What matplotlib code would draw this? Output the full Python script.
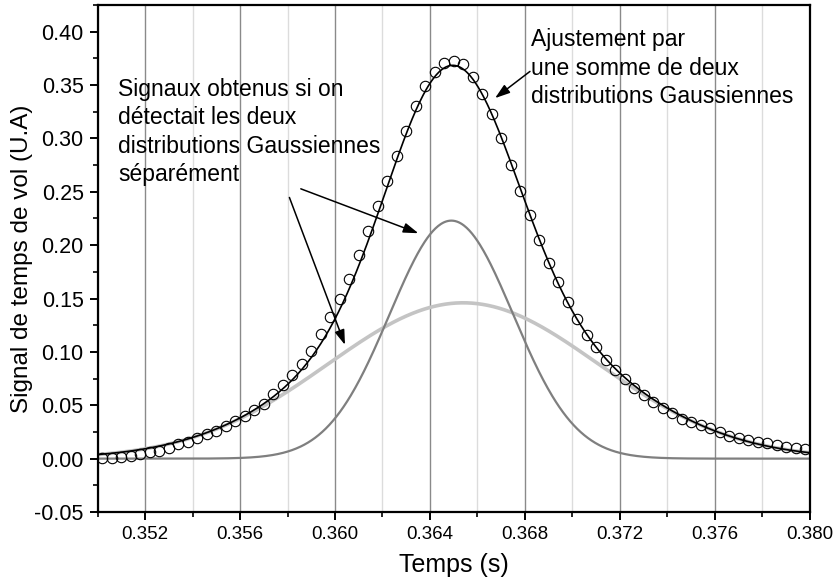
import numpy as np
import matplotlib
matplotlib.use("Agg")
import matplotlib.pyplot as plt
from matplotlib.ticker import MultipleLocator, FormatStrFormatter

plt.rcParams['font.family'] = ['Liberation Sans', 'DejaVu Sans']
plt.rcParams['axes.unicode_minus'] = False

# Measured time-of-flight signal (open circles)
temps = [0.3502, 0.3506, 0.3510, 0.3514, 0.3518, 0.3522, 0.3526, 0.3530, 0.3534, 0.3538,
         0.3542, 0.3546, 0.3550, 0.3554, 0.3558, 0.3562, 0.3566, 0.3570, 0.3574, 0.3578,
         0.3582, 0.3586, 0.3590, 0.3594, 0.3598, 0.3602, 0.3606, 0.3610, 0.3614, 0.3618,
         0.3622, 0.3626, 0.3630, 0.3634, 0.3638, 0.3642, 0.3646, 0.3650, 0.3654, 0.3658,
         0.3662, 0.3666, 0.3670, 0.3674, 0.3678, 0.3682, 0.3686, 0.3690, 0.3694, 0.3698,
         0.3702, 0.3706, 0.3710, 0.3714, 0.3718, 0.3722, 0.3726, 0.3730, 0.3734, 0.3738,
         0.3742, 0.3746, 0.3750, 0.3754, 0.3758, 0.3762, 0.3766, 0.3770, 0.3774, 0.3778,
         0.3782, 0.3786, 0.3790, 0.3794, 0.3798]
signal = [0.0003, 0.0009, 0.0016, 0.0028, 0.0044, 0.0059, 0.0075, 0.0097, 0.0134, 0.0159,
          0.0190, 0.0228, 0.0260, 0.0307, 0.0354, 0.0403, 0.0457, 0.0513, 0.0607, 0.0691,
          0.0785, 0.0888, 0.1010, 0.1170, 0.1323, 0.1498, 0.1686, 0.1908, 0.2136, 0.2364,
          0.2605, 0.2839, 0.3074, 0.3302, 0.3489, 0.3622, 0.3708, 0.3730, 0.3693, 0.3574,
          0.3421, 0.3230, 0.3004, 0.2755, 0.2504, 0.2286, 0.2046, 0.1832, 0.1651, 0.1466,
          0.1310, 0.1160, 0.1044, 0.0926, 0.0832, 0.0748, 0.0666, 0.0598, 0.0528, 0.0478,
          0.0425, 0.0372, 0.0341, 0.0316, 0.0284, 0.0247, 0.0216, 0.0197, 0.0175, 0.0153,
          0.0144, 0.0129, 0.0113, 0.0103, 0.0091]

# Fitted Gaussian components (narrow, wide)
gauss_amplitude = [0.223, 0.146]
gauss_center = [0.3649, 0.3654]
gauss_sigma = [0.0026, 0.0057]

x_ticks_major = [0.352, 0.356, 0.360, 0.364, 0.368, 0.372, 0.376, 0.380]
y_ticks_major = [-0.05, 0.00, 0.05, 0.10, 0.15, 0.20, 0.25, 0.30, 0.35, 0.40]

fig = plt.figure(figsize=(8.35, 5.78), dpi=100)
ax = fig.add_axes([0.1168, 0.1142, 0.970 - 0.1168, 0.9913 - 0.1142])

tt = np.linspace(0.350, 0.380, 800)
comps = [a * np.exp(-(tt - c) ** 2 / (2 * s ** 2))
         for a, c, s in zip(gauss_amplitude, gauss_center, gauss_sigma)]
fit = comps[0] + comps[1]

ax.plot(tt, comps[1], color='#c4c4c4', lw=2.6, zorder=3)
ax.plot(tt, comps[0], color='#7f7f7f', lw=1.6, zorder=3)
ax.plot(tt, fit, color='black', lw=1.2, zorder=4)
ax.plot(temps, signal, 'o', ms=7.5, mfc='none', mec='black', mew=0.8, zorder=5)

ax.set_xlim(0.350, 0.380)
ax.set_ylim(-0.05, 0.425)
ax.set_xticks(x_ticks_major)
ax.xaxis.set_minor_locator(MultipleLocator(0.002))
ax.set_yticks(y_ticks_major)
ax.yaxis.set_minor_locator(MultipleLocator(0.025))
ax.xaxis.set_major_formatter(FormatStrFormatter('%.3f'))
ax.yaxis.set_major_formatter(FormatStrFormatter('%.2f'))

ax.grid(True, which='major', axis='x', color='#8a8a8a', lw=1.0, zorder=0)
ax.grid(True, which='minor', axis='x', color='#dcdcdc', lw=1.0, zorder=0)
ax.set_axisbelow(True)

for sp in ax.spines.values():
    sp.set_linewidth(1.6)
    sp.set_zorder(6)

ax.tick_params(which='major', direction='out', length=6, width=1.4, pad=4,
               top=False, right=False)
ax.tick_params(axis='x', which='major', labelsize=13.5)
ax.tick_params(axis='y', which='major', labelsize=15.5)
ax.tick_params(which='minor', direction='out', length=3.5, width=1.2, top=False, right=False)

ax.set_xlabel('Temps (s)', fontsize=18, labelpad=7)
ax.set_ylabel('Signal de temps de vol (U.A)', fontsize=17.5, labelpad=1)

ax.text(0.35088, 0.2597, "Signaux obtenus si on\ndétectait les deux\ndistributions Gaussiennes\nséparément",
        fontsize=16.5, ha='left', va='baseline', linespacing=1.31, zorder=7)
ax.text(0.36824, 0.3331, "Ajustement par\nune somme de deux\ndistributions Gaussiennes",
        fontsize=16.5, ha='left', va='baseline', linespacing=1.31, zorder=7)

arrow_kw = dict(arrowstyle='-|>,head_length=0.9,head_width=0.3', color='black', lw=1.1,
                shrinkA=0, shrinkB=0)
ax.annotate('', xy=(0.36351, 0.2112), xytext=(0.35856, 0.2528), arrowprops=arrow_kw, zorder=7)
ax.annotate('', xy=(0.36042, 0.1066), xytext=(0.35808, 0.2447), arrowprops=arrow_kw, zorder=7)
ax.annotate('', xy=(0.36674, 0.3378), xytext=(0.36821, 0.3628), arrowprops=arrow_kw, zorder=7)

fig.savefig('out.png', dpi=100)
